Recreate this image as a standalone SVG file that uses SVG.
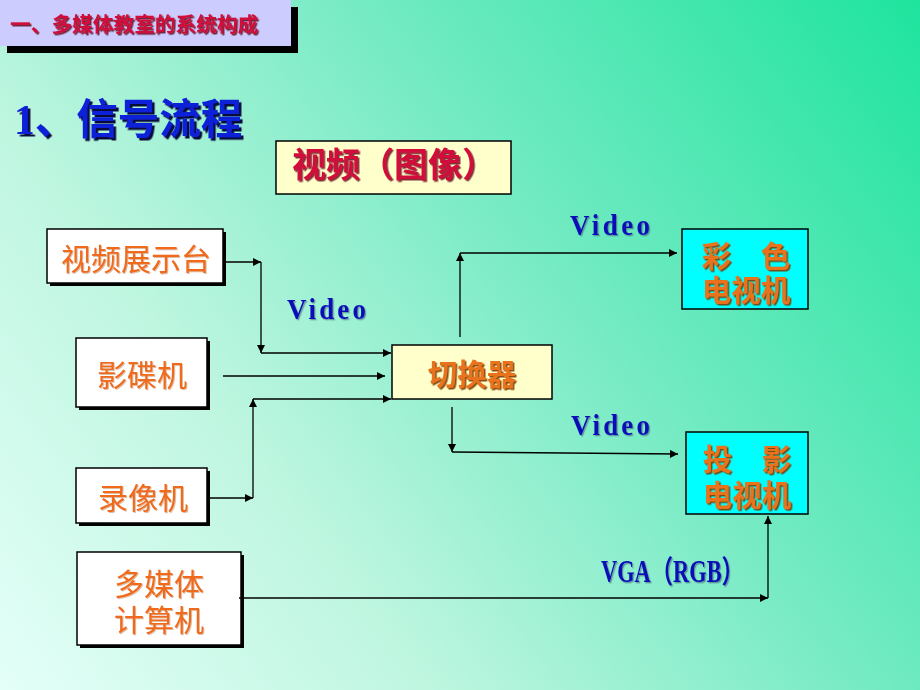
<svg xmlns="http://www.w3.org/2000/svg" width="920" height="690" viewBox="0 0 920 690">
  <defs>
    <linearGradient id="bg" gradientUnits="userSpaceOnUse" x1="0" y1="690" x2="920" y2="0">
      <stop offset="0" stop-color="#E4FFF8"/>
      <stop offset="0.3" stop-color="#BEF6E0"/>
      <stop offset="0.62" stop-color="#72EAC2"/>
      <stop offset="1" stop-color="#1EE49E"/>
    </linearGradient>
    <marker id="ah" viewBox="0 0 10 10" refX="10" refY="5" markerWidth="9" markerHeight="8" markerUnits="userSpaceOnUse" orient="auto">
      <path d="M0,0 L10,5 L0,10 Z" fill="#000"/>
    </marker>
    <filter id="sh1" x="-10%" y="-10%" width="130%" height="140%">
      <feDropShadow dx="1.5" dy="1.5" stdDeviation="0.3" flood-color="#7A3A00" flood-opacity="0.9"/>
    </filter>
    <filter id="shRed" x="-10%" y="-10%" width="130%" height="140%">
      <feDropShadow dx="1.5" dy="1.5" stdDeviation="0.3" flood-color="#5A0010" flood-opacity="0.8"/>
    </filter>
    <filter id="shBlue" x="-10%" y="-10%" width="130%" height="140%">
      <feDropShadow dx="2.5" dy="2.5" stdDeviation="0.4" flood-color="#000030" flood-opacity="0.95"/>
    </filter>
    <filter id="shLbl" x="-10%" y="-10%" width="130%" height="140%">
      <feDropShadow dx="1.2" dy="1.2" stdDeviation="0.5" flood-color="#406080" flood-opacity="0.6"/>
    </filter>
    <filter id="shSoft" x="-10%" y="-10%" width="130%" height="140%">
      <feDropShadow dx="1" dy="1" stdDeviation="0.6" flood-color="#A04000" flood-opacity="0.35"/>
    </filter>
  </defs>
  <style>
    .cjk { font-family: "Noto Sans CJK SC", "Noto Sans", sans-serif; }
    .in { fill: #fff; stroke: #000; stroke-width: 1.5; }
    .shd { fill: #000; }
    .sw { fill: #FFFFCC; stroke: #000; stroke-width: 1.5; }
    .out { fill: #00FFFF; stroke: #000; stroke-width: 1.5; }
    .ntxt { font-size: 30px; fill: #F06A1E; text-anchor: middle; }
    .btxt { font-size: 29.5px; fill: #E8731C; font-weight: bold; text-anchor: middle; }
    .lbl { font-family: "Liberation Serif", "Noto Sans CJK SC", serif; font-weight: bold; font-size: 27px; fill: #0A0AB8; }
    .conn line { stroke: #000; stroke-width: 1.3; fill: none; marker-end: url(#ah); }
  </style>

  <rect x="0" y="0" width="920" height="690" fill="url(#bg)"/>

  <g id="title-bar">
    <rect x="7" y="7" width="291" height="46" class="shd"/>
    <rect x="0" y="0" width="291" height="46" fill="#CCCCFF"/>
    <text x="10" y="32" class="cjk" font-size="20.7" font-weight="bold" fill="#D0103A" filter="url(#shRed)">一、多媒体教室的系统构成</text>
  </g>

  <g id="heading">
    <text x="14" y="134" font-family="Liberation Serif, Noto Sans CJK SC, serif" font-size="41.5" font-weight="bold" fill="#1020D8" filter="url(#shBlue)">1<tspan class="cjk">、信号流程</tspan></text>
  </g>

  <g id="video-title">
    <rect x="276" y="141" width="235" height="53" fill="#FFFFCC" stroke="#000" stroke-width="1.5"/>
    <text x="394" y="177" class="cjk" font-size="34" font-weight="bold" fill="#D0103A" text-anchor="middle" filter="url(#shRed)">视频（图像）</text>
  </g>

  <g id="visualizer">
    <rect x="50" y="232" width="176" height="54" class="shd"/>
    <rect x="47" y="229" width="176" height="54" class="in"/>
    <text x="136" y="270" class="cjk ntxt" filter="url(#shSoft)">视频展示台</text>
  </g>

  <g id="vcd-player">
    <rect x="79" y="341" width="131" height="69" class="shd"/>
    <rect x="76" y="338" width="131" height="69" class="in"/>
    <text x="142" y="386" class="cjk ntxt" filter="url(#shSoft)">影碟机</text>
  </g>

  <g id="vcr">
    <rect x="79" y="471" width="131" height="55" class="shd"/>
    <rect x="76" y="468" width="131" height="55" class="in"/>
    <text x="143" y="509" class="cjk ntxt" filter="url(#shSoft)">录像机</text>
  </g>

  <g id="computer">
    <rect x="80" y="555" width="164" height="93" class="shd"/>
    <rect x="77" y="552" width="164" height="93" class="in"/>
    <text class="cjk ntxt" filter="url(#shSoft)"><tspan x="159" y="595">多媒体</tspan><tspan x="159" y="631">计算机</tspan></text>
  </g>

  <g id="switcher">
    <rect x="392" y="345" width="160" height="54" class="sw"/>
    <text x="472" y="385" class="cjk btxt" font-size="30" filter="url(#sh1)">切换器</text>
  </g>

  <g id="color-tv">
    <rect x="682" y="229" width="126" height="80" class="out"/>
    <text class="cjk btxt" filter="url(#sh1)"><tspan x="746" y="267">彩　色</tspan><tspan x="746" y="301">电视机</tspan></text>
  </g>

  <g id="projection-tv">
    <rect x="686" y="432" width="122" height="82" class="out"/>
    <text class="cjk btxt" filter="url(#sh1)"><tspan x="747" y="470">投　影</tspan><tspan x="747" y="506">电视机</tspan></text>
  </g>

  <g id="connectors" class="conn">
    <line x1="223" y1="262" x2="261" y2="262"/>
    <line x1="261" y1="262" x2="261" y2="353"/>
    <line x1="261" y1="353" x2="391" y2="353"/>
    <line x1="223" y1="376" x2="385" y2="376"/>
    <line x1="207" y1="498" x2="253" y2="498"/>
    <line x1="253" y1="498" x2="253" y2="399"/>
    <line x1="253" y1="399" x2="391" y2="399"/>
    <line x1="460" y1="337" x2="460" y2="253"/>
    <line x1="460" y1="253" x2="677" y2="253"/>
    <line x1="452" y1="407" x2="452" y2="452"/>
    <line x1="452" y1="452" x2="678" y2="454"/>
    <line x1="239" y1="598" x2="768" y2="598"/>
    <line x1="768" y1="598" x2="768" y2="516"/>
  </g>

  <g id="labels">
    <text class="lbl" transform="translate(570,235) scale(1,1.1)" textLength="80" lengthAdjust="spacing" filter="url(#shLbl)">Video</text>
    <text class="lbl" transform="translate(287,319) scale(1,1.1)" textLength="79" lengthAdjust="spacing" filter="url(#shLbl)">Video</text>
    <text class="lbl" transform="translate(571,435) scale(1,1.1)" textLength="79" lengthAdjust="spacing" filter="url(#shLbl)">Video</text>
    <text class="lbl" transform="translate(601,582) scale(1,1.15)" textLength="143" lengthAdjust="spacingAndGlyphs" filter="url(#shLbl)">VGA（RGB）</text>
  </g>
</svg>
